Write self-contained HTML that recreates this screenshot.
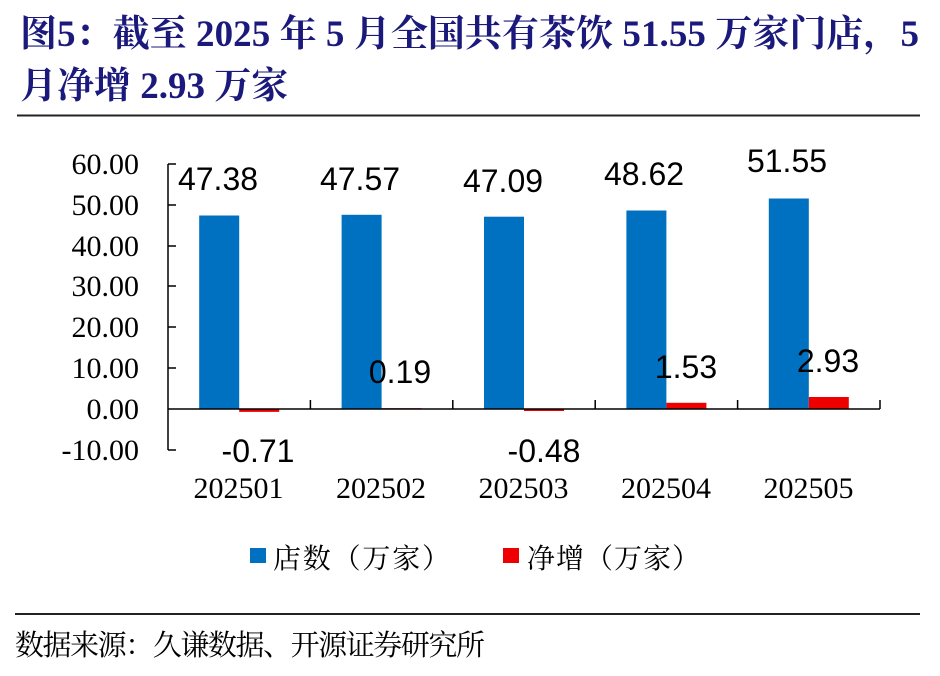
<!DOCTYPE html>
<html>
<head>
<meta charset="utf-8">
<style>
  html,body{margin:0;padding:0;background:#fff;}
  body{width:940px;height:676px;overflow:hidden;}
  svg{display:block;}
  .title{font-family:"Liberation Serif","Noto Serif CJK SC",serif;font-weight:bold;font-size:37px;fill:#1b1a7c;}
  .yt{font-family:"Liberation Serif",serif;font-size:30px;fill:#000;}
  .xt{font-family:"Liberation Serif",serif;font-size:30px;fill:#000;}
  .dl{font-family:"Liberation Sans",sans-serif;font-size:32px;fill:#000;}
  .lg{font-family:"Liberation Serif","Noto Serif CJK SC",serif;font-size:28px;fill:#000;}
  .src{font-family:"Liberation Serif","Noto Serif CJK SC",serif;font-size:29px;fill:#000;}
</style>
</head>
<body>
<svg width="940" height="676" viewBox="0 0 940 676" xmlns="http://www.w3.org/2000/svg">
  <!-- Title -->
  <text class="title" x="20" y="46" textLength="899" lengthAdjust="spacing">图5：截至 2025 年 5 月全国共有茶饮 51.55 万家门店，5</text>
  <text class="title" x="20" y="98">月净增 2.93 万家</text>
  <line x1="17" y1="115.5" x2="920" y2="115.5" stroke="#222" stroke-width="2"/>

  <!-- Y tick labels -->
  <g class="yt" text-anchor="end">
    <text x="139" y="174">60.00</text>
    <text x="139" y="215">50.00</text>
    <text x="139" y="256">40.00</text>
    <text x="139" y="296">30.00</text>
    <text x="139" y="337">20.00</text>
    <text x="139" y="378">10.00</text>
    <text x="139" y="419">0.00</text>
    <text x="139" y="460">-10.00</text>
  </g>

  <!-- Bars: blue -->
  <g fill="#0070c0">
    <rect x="199.2" y="215.5" width="40" height="193.5"/>
    <rect x="341.6" y="214.8" width="40" height="194.2"/>
    <rect x="484.0" y="216.7" width="40" height="192.3"/>
    <rect x="626.4" y="210.5" width="40" height="198.5"/>
    <rect x="768.8" y="198.5" width="40" height="210.5"/>
  </g>
  <!-- Bars: red -->
  <g fill="#ee0000">
    <rect x="239.2" y="409" width="40" height="2.9"/>
    <rect x="381.6" y="408.2" width="40" height="0.8"/>
    <rect x="524.0" y="409" width="40" height="2"/>
    <rect x="666.4" y="402.8" width="40" height="6.2"/>
    <rect x="808.8" y="397.0" width="40" height="12"/>
  </g>

  <!-- Axes -->
  <g stroke="#000" stroke-width="1.5" fill="none">
    <line x1="168" y1="164" x2="168" y2="450"/>
    <line x1="168" y1="164" x2="176" y2="164"/>
    <line x1="168" y1="205" x2="176" y2="205"/>
    <line x1="168" y1="246" x2="176" y2="246"/>
    <line x1="168" y1="286" x2="176" y2="286"/>
    <line x1="168" y1="327" x2="176" y2="327"/>
    <line x1="168" y1="368" x2="176" y2="368"/>
    <line x1="168" y1="450" x2="176" y2="450"/>
    <line x1="168" y1="409" x2="880" y2="409"/>
    <line x1="310.4" y1="400" x2="310.4" y2="409"/>
    <line x1="452.8" y1="400" x2="452.8" y2="409"/>
    <line x1="595.2" y1="400" x2="595.2" y2="409"/>
    <line x1="737.6" y1="400" x2="737.6" y2="409"/>
    <line x1="880" y1="400" x2="880" y2="409"/>
  </g>

  <!-- Data labels -->
  <g class="dl" text-anchor="middle">
    <text x="218" y="190">47.38</text>
    <text x="360" y="190">47.57</text>
    <text x="503" y="192">47.09</text>
    <text x="644" y="185">48.62</text>
    <text x="787" y="172">51.55</text>
    <text x="400" y="383">0.19</text>
    <text x="686" y="378">1.53</text>
    <text x="828" y="372">2.93</text>
    <text x="258" y="462">-0.71</text>
    <text x="544" y="462">-0.48</text>
  </g>

  <!-- X labels -->
  <g class="xt" text-anchor="middle">
    <text x="238.5" y="498">202501</text>
    <text x="381" y="498">202502</text>
    <text x="523.5" y="498">202503</text>
    <text x="666" y="498">202504</text>
    <text x="808.5" y="498">202505</text>
  </g>

  <!-- Legend -->
  <rect x="250" y="548" width="16" height="15" fill="#0070c0"/>
  <text class="lg" x="273" y="568" textLength="177" lengthAdjust="spacing">店数（万家）</text>
  <rect x="503" y="548" width="16" height="15" fill="#ee0000"/>
  <text class="lg" x="527" y="568" textLength="173" lengthAdjust="spacing">净增（万家）</text>

  <!-- Footer -->
  <line x1="15" y1="614" x2="920" y2="614" stroke="#222" stroke-width="2"/>
  <text class="src" x="15" y="655" textLength="470" lengthAdjust="spacing">数据来源：久谦数据、开源证券研究所</text>
</svg>
</body>
</html>
